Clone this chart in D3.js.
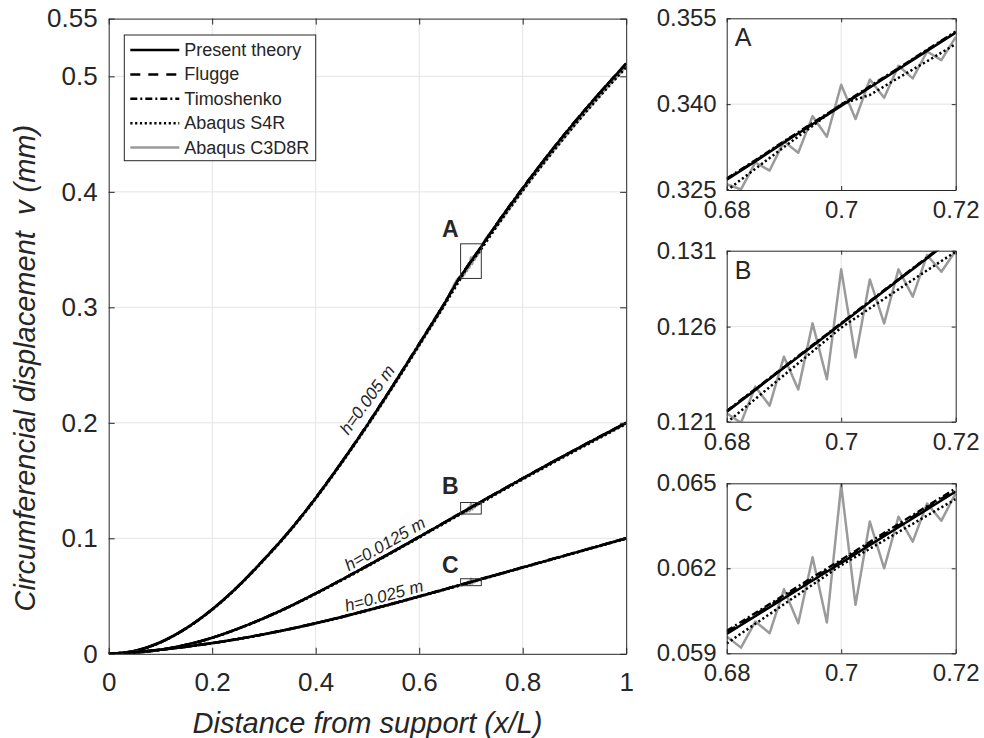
<!DOCTYPE html>
<html>
<head>
<meta charset="utf-8">
<script src="https://cdn.jsdelivr.net/npm/d3@7"></script>
<style>
  body { margin: 0; background: #fff; }
  svg text { font-family: "Liberation Sans", Arial, Helvetica, sans-serif; fill: #262626; }
</style>
</head>
<body>
<svg id="chart" width="984" height="738"></svg>
<script>
// ---------- main plot: circumferential displacement along the shell ----------
const xMain = [0,0.05,0.1,0.15,0.2,0.25,0.3,0.35,0.4,0.45,0.5,0.55,0.6,0.65,0.7,0.75,0.8,0.85,0.9,0.95,1];

// h = 0.005 m
const present005 = [0,0.0025,0.0100,0.0222,0.0385,0.0585,0.0817,0.1068,0.1350,0.1658,0.1984,0.2328,0.2683,0.3043,0.3398,0.3722,0.4032,0.4325,0.4602,0.4862,0.5110];
const flugge005  = [0,0.0025,0.0100,0.0222,0.0385,0.0585,0.0818,0.1069,0.1351,0.1659,0.1985,0.2329,0.2684,0.3044,0.3399,0.3723,0.4033,0.4326,0.4603,0.4863,0.5111];
const timo005    = [0,0.0025,0.0100,0.0223,0.0386,0.0586,0.0818,0.1069,0.1352,0.1660,0.1986,0.2330,0.2685,0.3045,0.3400,0.3724,0.4034,0.4327,0.4604,0.4864,0.5112];
const s4r005     = [0,0.0024,0.0098,0.0219,0.0381,0.0580,0.0811,0.1061,0.1342,0.1649,0.1974,0.2316,0.2669,0.3027,0.3383,0.3700,0.4008,0.4299,0.4574,0.4832,0.5078];
const c3d005     = [0,0.0024,0.0099,0.0220,0.0382,0.0581,0.0812,0.1062,0.1344,0.1651,0.1976,0.2319,0.2672,0.3030,0.3386,0.3704,0.4012,0.4303,0.4578,0.4837,0.5084];

// h = 0.0125 m
const present0125 = [0,0.0009,0.0035,0.0078,0.0139,0.0218,0.0309,0.0411,0.0523,0.0641,0.0763,0.0887,0.1013,0.1140,0.1267,0.1394,0.1519,0.1642,0.1763,0.1882,0.2000];
const flugge0125  = [0,0.0009,0.0035,0.0078,0.0139,0.0218,0.0309,0.0411,0.0523,0.0641,0.0763,0.0887,0.1013,0.1140,0.1267,0.1394,0.1519,0.1643,0.1764,0.1883,0.2001];
const timo0125    = [0,0.0009,0.0035,0.0078,0.0139,0.0218,0.0310,0.0412,0.0524,0.0642,0.0764,0.0888,0.1014,0.1141,0.1268,0.1395,0.1520,0.1643,0.1764,0.1883,0.2001];
const s4r0125     = [0,0.0009,0.0034,0.0077,0.0137,0.0216,0.0306,0.0407,0.0518,0.0635,0.0757,0.0881,0.1006,0.1133,0.1260,0.1385,0.1510,0.1632,0.1753,0.1872,0.1990];
const c3d0125     = [0,0.0009,0.0035,0.0077,0.0138,0.0217,0.0308,0.0409,0.0521,0.0639,0.0760,0.0884,0.1010,0.1137,0.1264,0.1390,0.1515,0.1637,0.1758,0.1877,0.1995];

// h = 0.025 m
const present025 = [0,0.0015,0.0036,0.0062,0.0093,0.0129,0.0170,0.0215,0.0265,0.0319,0.0377,0.0436,0.0497,0.0559,0.0622,0.0685,0.0748,0.0811,0.0874,0.0937,0.1000];
const flugge025  = [0,0.0015,0.0036,0.0062,0.0093,0.0129,0.0170,0.0215,0.0265,0.0319,0.0377,0.0436,0.0497,0.0560,0.0623,0.0686,0.0749,0.0812,0.0875,0.0938,0.1001];
const timo025    = [0,0.0015,0.0036,0.0062,0.0093,0.0129,0.0170,0.0216,0.0266,0.0320,0.0378,0.0437,0.0498,0.0560,0.0623,0.0686,0.0749,0.0812,0.0875,0.0938,0.1001];
const s4r025     = [0,0.0014,0.0035,0.0061,0.0091,0.0127,0.0168,0.0213,0.0262,0.0316,0.0374,0.0433,0.0494,0.0556,0.0619,0.0682,0.0745,0.0808,0.0871,0.0934,0.0997];
const c3d025     = [0,0.0015,0.0035,0.0061,0.0092,0.0128,0.0169,0.0214,0.0264,0.0317,0.0375,0.0434,0.0495,0.0557,0.0620,0.0683,0.0746,0.0809,0.0872,0.0935,0.0998];

const xTicksMain = [0,0.2,0.4,0.6,0.8,1];
const yTicksMain = [0,0.1,0.2,0.3,0.4,0.5,0.55];

// ---------- refined samples around the loaded section (x/L = 0.68 ... 0.72) ----------
const xZoom     = [0.68,0.685,0.69,0.695,0.7,0.705,0.71,0.715,0.72];
const xZoomFine = [0.68,0.6825,0.685,0.6875,0.69,0.6925,0.695,0.6975,0.7,0.7025,0.705,0.7075,0.71,0.7125,0.715,0.7175,0.72];
const xTicksZoom = [0.68,0.7,0.72];

// A : h = 0.005 m
const presentA = [0.3268,0.3300,0.3333,0.3365,0.3397,0.3429,0.3461,0.3493,0.3525];
const fluggeA  = [0.3269,0.3301,0.3334,0.3366,0.3398,0.3430,0.3462,0.3494,0.3526];
const timoA    = [0.3270,0.3302,0.3335,0.3367,0.3399,0.3431,0.3463,0.3495,0.3527];
const s4rA     = [0.3249,0.3287,0.3325,0.3362,0.3400,0.3416,0.3446,0.3475,0.3505];
const c3dA     = [0.3260,0.3251,0.3298,0.3284,0.3335,0.3315,0.3379,0.3343,0.3434,0.3374,0.3443,0.3411,0.3467,0.3445,0.3492,0.3477,0.3517];
const yDomainA = [0.325,0.355];
const yTicksA  = [0.325,0.34,0.355];
const yLabelsA = ["0.325","0.340","0.355"];

// B : h = 0.0125 m
const presentB = [0.12158,0.12286,0.12415,0.12543,0.12671,0.12800,0.12928,0.13056,0.13185];
const fluggeB  = [0.12161,0.12289,0.12418,0.12546,0.12674,0.12803,0.12931,0.13059,0.13188];
const timoB    = [0.12163,0.12291,0.12420,0.12548,0.12676,0.12805,0.12933,0.13061,0.13190];
const s4rB     = [0.12094,0.12233,0.12372,0.12511,0.12650,0.12763,0.12874,0.12985,0.13094];
const c3dB     = [0.12149,0.12094,0.12305,0.12194,0.12480,0.12289,0.12675,0.12348,0.12991,0.12476,0.12932,0.12675,0.12991,0.12831,0.13075,0.12977,0.13100];
const yDomainB = [0.121,0.131];
const yTicksB  = [0.121,0.12656,0.131];
const yLabelsB = ["0.121","0.126","0.131"];

// C : h = 0.025 m
const presentC = [0.05968,0.06031,0.06094,0.06157,0.06219,0.06282,0.06345,0.06408,0.06471];
const fluggeC  = [0.05974,0.06037,0.06100,0.06163,0.06225,0.06288,0.06351,0.06414,0.06477];
const timoC    = [0.05979,0.06042,0.06105,0.06168,0.06230,0.06293,0.06356,0.06419,0.06482];
const s4rC     = [0.05935,0.06004,0.06073,0.06142,0.06211,0.06269,0.06328,0.06386,0.06444];
const c3dC     = [0.05959,0.05920,0.06012,0.05971,0.06126,0.06006,0.06239,0.06009,0.06494,0.06071,0.06365,0.06200,0.06382,0.06294,0.06429,0.06368,0.06465];
const yDomainC = [0.059,0.065];
const yTicksC  = [0.059,0.062,0.065];
const yLabelsC = ["0.059","0.062","0.065"];

const seriesNames = ["Present theory","Flugge","Timoshenko","Abaqus S4R","Abaqus C3D8R"];

// curve annotations (data coordinates of the label centre, text angle in degrees)
const thicknessLabels = [
  {text: "h=0.005 m",  x: 0.500, y: 0.220, angle: -54},
  {text: "h=0.0125 m", x: 0.534, y: 0.095, angle: -30},
  {text: "h=0.025 m",  x: 0.532, y: 0.050, angle: -15}
];
const zoomMarks = [
  {text: "A", x: 0.660, y: 0.368},
  {text: "B", x: 0.660, y: 0.145},
  {text: "C", x: 0.660, y: 0.077}
];

// ---------- styles ----------
const lineStyles = [
  {stroke: "#000",    dash: null,       width: 2.5},
  {stroke: "#000",    dash: "10 8",     width: 2.5},
  {stroke: "#000",    dash: "7 3 2 3",  width: 2.5},
  {stroke: "#000",    dash: "2.2 2.6",  width: 2.5},
  {stroke: "#9a9a9a", dash: null,       width: 2.5}
];
const axisColor = "#262626";
const gridColor = "#e4e4e4";

const svg = d3.select("#chart");
const defs = svg.append("defs");

// ---------- assemble series ----------
const thicknesses = [
  {coarse: [present005, flugge005, timo005, s4r005, c3d005],
   zoom:   [presentA, fluggeA, timoA, s4rA, c3dA], yDomain: yDomainA, yTicks: yTicksA, yLabels: yLabelsA, tag: "A"},
  {coarse: [present0125, flugge0125, timo0125, s4r0125, c3d0125],
   zoom:   [presentB, fluggeB, timoB, s4rB, c3dB], yDomain: yDomainB, yTicks: yTicksB, yLabels: yLabelsB, tag: "B"},
  {coarse: [present025, flugge025, timo025, s4r025, c3d025],
   zoom:   [presentC, fluggeC, timoC, s4rC, c3dC], yDomain: yDomainC, yTicks: yTicksC, yLabels: yLabelsC, tag: "C"}
];

function zoomX(k) { return k === 4 ? xZoomFine : xZoom; }

// coarse samples outside the refined window + refined samples inside it
function mergeSeries(coarse, xz, yz) {
  const lo = xz[0], hi = xz[xz.length - 1];
  const pts = [];
  xMain.forEach((x, i) => { if (x < lo || x > hi) pts.push([x, coarse[i]]); });
  xz.forEach((x, i) => pts.push([x, yz[i]]));
  return pts.sort((a, b) => a[0] - b[0]);
}

function styleLine(sel, st) {
  sel.attr("fill", "none")
     .attr("stroke", st.stroke)
     .attr("stroke-width", st.width)
     .attr("stroke-dasharray", st.dash)
     .attr("stroke-linejoin", "round");
}

function styleAxis(g, size) {
  g.attr("font-family", null).attr("font-size", null);
  g.selectAll(".domain").attr("stroke", axisColor).attr("stroke-width", 1);
  g.selectAll(".tick line").attr("stroke", axisColor).attr("stroke-width", 1);
  g.selectAll(".tick text").style("font-size", size + "px").attr("fill", axisColor);
}

// ---------- main axes ----------
const M = {left: 108.7, right: 626.2, top: 18.6, bottom: 653.8};
const x = d3.scaleLinear().domain([0, 1]).range([M.left, M.right]);
const y = d3.scaleLinear().domain([0, 0.55]).range([M.bottom, M.top]);
const fmt = d3.format("~g");

const main = svg.append("g");

// grid
main.append("g").selectAll("line").data(xTicksMain.slice(1, -1)).join("line")
  .attr("x1", d => x(d)).attr("x2", d => x(d)).attr("y1", M.top).attr("y2", M.bottom)
  .attr("stroke", gridColor).attr("stroke-width", 1);
main.append("g").selectAll("line").data(yTicksMain.slice(1, -1)).join("line")
  .attr("y1", d => y(d)).attr("y2", d => y(d)).attr("x1", M.left).attr("x2", M.right)
  .attr("stroke", gridColor).attr("stroke-width", 1);

// curves
defs.append("clipPath").attr("id", "clip-main").append("rect")
  .attr("x", M.left).attr("y", M.top).attr("width", M.right - M.left).attr("height", M.bottom - M.top);
const mainLine = d3.line().x(d => x(d[0])).y(d => y(d[1])).curve(d3.curveMonotoneX);
const curves = main.append("g").attr("clip-path", "url(#clip-main)");
thicknesses.forEach(t => {
  for (let k = 4; k >= 0; k--) {
    const pts = mergeSeries(t.coarse[k], zoomX(k), t.zoom[k]);
    curves.append("path").datum(pts).attr("d", mainLine).call(styleLine, lineStyles[k]);
  }
});

// windows shown enlarged on the right
main.append("g").selectAll("rect").data(thicknesses).join("rect")
  .attr("x", x(xZoom[0])).attr("width", x(xZoom[xZoom.length - 1]) - x(xZoom[0]))
  .attr("y", d => y(d.yDomain[1])).attr("height", d => y(d.yDomain[0]) - y(d.yDomain[1]))
  .attr("fill", "none").attr("stroke", "#333").attr("stroke-width", 1);

// axes (ticks pointing inward, box on)
const gx = main.append("g").attr("transform", `translate(0,${M.bottom})`)
  .call(d3.axisBottom(x).tickValues(xTicksMain).tickFormat(fmt).tickSizeInner(-6).tickSizeOuter(0).tickPadding(19));
styleAxis(gx, 26);
const gxt = main.append("g").attr("transform", `translate(0,${M.top})`)
  .call(d3.axisTop(x).tickValues(xTicksMain).tickFormat("").tickSizeInner(-6).tickSizeOuter(0));
styleAxis(gxt, 26);
const gy = main.append("g").attr("transform", `translate(${M.left},0)`)
  .call(d3.axisLeft(y).tickValues(yTicksMain).tickFormat(fmt).tickSizeInner(-6).tickSizeOuter(0).tickPadding(11));
styleAxis(gy, 26);
const gyr = main.append("g").attr("transform", `translate(${M.right},0)`)
  .call(d3.axisRight(y).tickValues(yTicksMain).tickFormat("").tickSizeInner(-6).tickSizeOuter(0));
styleAxis(gyr, 26);

// axis titles
main.append("text")
  .attr("x", (M.left + M.right) / 2).attr("y", 733)
  .attr("text-anchor", "middle").style("font-size", "29px").style("font-style", "italic")
  .text("Distance from support (x/L)");
main.append("text")
  .attr("transform", `translate(25,${(M.top + M.bottom) / 2 + 32}) rotate(-90)`)
  .attr("text-anchor", "middle").attr("dominant-baseline", "central")
  .style("font-size", "29px").style("font-style", "italic").style("white-space", "pre")
  .text("Circumferencial displacement  v (mm)");

// thickness labels along the curves
main.append("g").selectAll("text").data(thicknessLabels).join("text")
  .attr("transform", d => `translate(${x(d.x)},${y(d.y)}) rotate(${d.angle})`)
  .attr("text-anchor", "middle").attr("dominant-baseline", "central")
  .style("font-size", "17px").style("font-style", "italic").attr("fill", "#111")
  .text(d => d.text);

// window tags
main.append("g").selectAll("text").data(zoomMarks).join("text")
  .attr("x", d => x(d.x)).attr("y", d => y(d.y))
  .attr("text-anchor", "middle").attr("dominant-baseline", "central")
  .style("font-size", "23px").style("font-weight", "bold").attr("fill", "#000")
  .text(d => d.text);

// legend
const L = {x: 124.3, y: 35, w: 191.4, h: 125.7, row0: 15, rowStep: 24.4};
const legend = main.append("g").attr("transform", `translate(${L.x},${L.y})`);
legend.append("rect").attr("width", L.w).attr("height", L.h)
  .attr("fill", "#fff").attr("stroke", axisColor).attr("stroke-width", 1);
const rows = legend.selectAll("g.row").data(seriesNames).join("g")
  .attr("transform", (d, i) => `translate(0,${L.row0 + i * L.rowStep})`);
rows.append("line").attr("x1", 6).attr("x2", 55).attr("y1", 0).attr("y2", 0)
  .each(function (d, i) { d3.select(this).call(styleLine, lineStyles[i]); });
rows.append("text").attr("x", 60).attr("y", 0).attr("dominant-baseline", "central")
  .style("font-size", "18px").attr("fill", "#000").text(d => d);

// ---------- enlarged windows ----------
const Z = {left: 726.7, right: 955.7};
const zoomFrames = [{top: 18.3, bottom: 190}, {top: 250.7, bottom: 421.7}, {top: 483.3, bottom: 653.3}];

thicknesses.forEach((t, p) => {
  const fr = zoomFrames[p];
  const zx = d3.scaleLinear().domain([xZoom[0], xZoom[xZoom.length - 1]]).range([Z.left, Z.right]);
  const zy = d3.scaleLinear().domain(t.yDomain).range([fr.bottom, fr.top]);
  const g = svg.append("g");

  // grid at the middle ticks
  g.append("line").attr("x1", zx(xTicksZoom[1])).attr("x2", zx(xTicksZoom[1]))
    .attr("y1", fr.top).attr("y2", fr.bottom).attr("stroke", gridColor);
  g.append("line").attr("y1", zy(t.yTicks[1])).attr("y2", zy(t.yTicks[1]))
    .attr("x1", Z.left).attr("x2", Z.right).attr("stroke", gridColor);

  const cid = "clip-zoom-" + p;
  defs.append("clipPath").attr("id", cid).append("rect")
    .attr("x", Z.left).attr("y", fr.top).attr("width", Z.right - Z.left).attr("height", fr.bottom - fr.top);
  const zl = d3.line().x(d => zx(d[0])).y(d => zy(d[1]));
  const cg = g.append("g").attr("clip-path", `url(#${cid})`);
  for (let k = 4; k >= 0; k--) {
    const xs = zoomX(k);
    const pts = xs.map((xv, i) => [xv, t.zoom[k][i]]);
    cg.append("path").datum(pts).attr("d", zl).call(styleLine, lineStyles[k]);
  }

  const ax = g.append("g").attr("transform", `translate(0,${fr.bottom})`)
    .call(d3.axisBottom(zx).tickValues(xTicksZoom).tickFormat(fmt).tickSizeInner(-4).tickSizeOuter(0).tickPadding(11));
  styleAxis(ax, 24);
  const axt = g.append("g").attr("transform", `translate(0,${fr.top})`)
    .call(d3.axisTop(zx).tickValues(xTicksZoom).tickFormat("").tickSizeInner(-4).tickSizeOuter(0));
  styleAxis(axt, 24);
  const ay = g.append("g").attr("transform", `translate(${Z.left},0)`)
    .call(d3.axisLeft(zy).tickValues(t.yTicks).tickFormat((d, i) => t.yLabels[i]).tickSizeInner(-4).tickSizeOuter(0).tickPadding(10));
  styleAxis(ay, 24);
  const ayr = g.append("g").attr("transform", `translate(${Z.right},0)`)
    .call(d3.axisRight(zy).tickValues(t.yTicks).tickFormat("").tickSizeInner(-4).tickSizeOuter(0));
  styleAxis(ayr, 24);

  g.append("text").attr("x", Z.left + 8).attr("y", fr.top + 28)
    .style("font-size", "25px").attr("fill", "#000").text(t.tag);
});
</script>
</body>
</html>
